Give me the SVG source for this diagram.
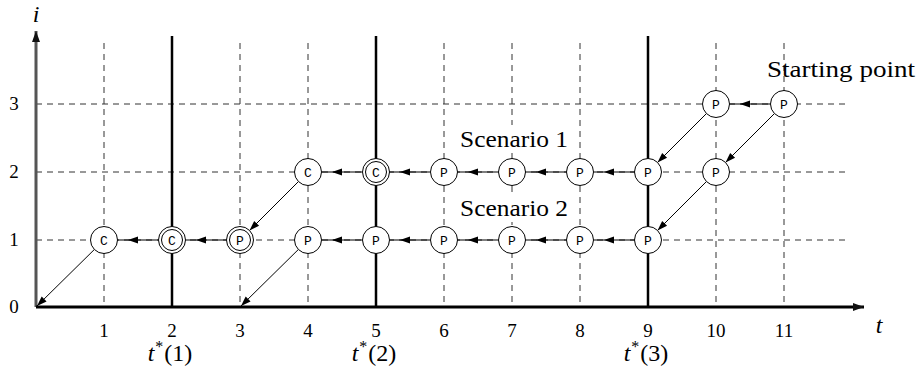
<svg xmlns="http://www.w3.org/2000/svg" width="920" height="373" viewBox="0 0 920 373">
<defs>
<marker id="mid" markerUnits="userSpaceOnUse" viewBox="-1 -5 12 10" refX="0" refY="0" markerWidth="12" markerHeight="10" orient="auto">
<path d="M10,0 L0,-3.5 L0,3.5 Z" fill="#000"/>
</marker>
<marker id="end" markerUnits="userSpaceOnUse" viewBox="-11 -5 12 10" refX="0" refY="0" markerWidth="12" markerHeight="10" orient="auto">
<path d="M0,0 L-10,-3.5 L-10,3.5 Z" fill="#000"/>
</marker>
<marker id="axis" markerUnits="userSpaceOnUse" viewBox="-12 -5 13 10" refX="0" refY="0" markerWidth="13" markerHeight="10" orient="auto">
<path d="M0,0 L-11,-4 L-11,4 Z" fill="#111"/>
</marker>
<circle id="c" r="13.5" fill="#fff" stroke="#000" stroke-width="1"/>
<g id="cc"><circle r="13.5" fill="#fff" stroke="#000" stroke-width="1"/><circle r="10.5" fill="#fff" stroke="#000" stroke-width="1"/></g>
</defs>

<g id="grid">
<path stroke="#333" stroke-width="1" stroke-dasharray="6 5" fill="none" d="M104,43V307 M240,43V307 M308,43V307 M444,43V307 M512,43V307 M580,43V307 M716,43V307 M784,43V307 M36,104H847 M36,172H847 M36,240H847"/>
<path stroke="#000" stroke-width="2.5" fill="none" d="M172,36V307 M376,36V307 M648,36V307"/>
</g>

<g id="axes">
<line x1="36" y1="307" x2="36" y2="31" stroke="#555" stroke-width="3" marker-end="url(#axis)"/>
<line x1="36" y1="307" x2="864" y2="307" stroke="#000" stroke-width="3" marker-end="url(#axis)"/>
<text font-family="Liberation Serif" font-size="24" font-style="italic" x="36" y="22" text-anchor="middle">i</text>
<text font-family="Liberation Serif" font-size="24" font-style="italic" x="879" y="333" text-anchor="middle">t</text>
<text font-family="Liberation Serif" font-size="19" text-anchor="middle" x="14" y="313">0</text>
<text font-family="Liberation Serif" font-size="19" text-anchor="middle" x="14" y="246">1</text>
<text font-family="Liberation Serif" font-size="19" text-anchor="middle" x="14" y="178">2</text>
<text font-family="Liberation Serif" font-size="19" text-anchor="middle" x="14" y="110">3</text>
<text font-family="Liberation Serif" font-size="19" text-anchor="middle" x="104" y="337">1</text>
<text font-family="Liberation Serif" font-size="19" text-anchor="middle" x="172" y="337">2</text>
<text font-family="Liberation Serif" font-size="19" text-anchor="middle" x="240" y="337">3</text>
<text font-family="Liberation Serif" font-size="19" text-anchor="middle" x="308" y="337">4</text>
<text font-family="Liberation Serif" font-size="19" text-anchor="middle" x="376" y="337">5</text>
<text font-family="Liberation Serif" font-size="19" text-anchor="middle" x="444" y="337">6</text>
<text font-family="Liberation Serif" font-size="19" text-anchor="middle" x="512" y="337">7</text>
<text font-family="Liberation Serif" font-size="19" text-anchor="middle" x="580" y="337">8</text>
<text font-family="Liberation Serif" font-size="19" text-anchor="middle" x="648" y="337">9</text>
<text font-family="Liberation Serif" font-size="19" text-anchor="middle" x="716" y="337">10</text>
<text font-family="Liberation Serif" font-size="19" text-anchor="middle" x="784" y="337">11</text>
<text font-family="Liberation Serif" font-size="24" x="170" y="361" text-anchor="middle"><tspan font-style="italic">t</tspan><tspan dy="-9" font-size="16" dx="1">*</tspan><tspan dy="9" dx="1">(1)</tspan></text>
<text font-family="Liberation Serif" font-size="24" x="374" y="361" text-anchor="middle"><tspan font-style="italic">t</tspan><tspan dy="-9" font-size="16" dx="1">*</tspan><tspan dy="9" dx="1">(2)</tspan></text>
<text font-family="Liberation Serif" font-size="24" x="646" y="361" text-anchor="middle"><tspan font-style="italic">t</tspan><tspan dy="-9" font-size="16" dx="1">*</tspan><tspan dy="9" dx="1">(3)</tspan></text>
</g>

<g id="labels">
<rect x="458" y="125" width="112" height="28" fill="#fff"/>
<rect x="458" y="194" width="112" height="28" fill="#fff"/>
<text font-family="Liberation Serif" font-size="24" x="460" y="146.5" textLength="108" lengthAdjust="spacingAndGlyphs">Scenario 1</text>
<text font-family="Liberation Serif" font-size="24" x="460" y="216" textLength="108" lengthAdjust="spacingAndGlyphs">Scenario 2</text>
<text font-family="Liberation Serif" font-size="24" x="767" y="77" textLength="148" lengthAdjust="spacingAndGlyphs">Starting point</text>
</g>

<g id="connectors" fill="none" stroke="#000">
<g stroke-width="1.2" marker-mid="url(#mid)">
<path d="M770.5,104 L750,104 L729.5,104"/>
<path d="M634.5,172 L614,172 L593.5,172"/>
<path d="M566.5,172 L546,172 L525.5,172"/>
<path d="M498.5,172 L478,172 L457.5,172"/>
<path d="M430.5,172 L410,172 L389.5,172"/>
<path d="M362.5,172 L342,172 L321.5,172"/>
<path d="M634.5,240 L614,240 L593.5,240"/>
<path d="M566.5,240 L546,240 L525.5,240"/>
<path d="M498.5,240 L478,240 L457.5,240"/>
<path d="M430.5,240 L410,240 L389.5,240"/>
<path d="M362.5,240 L342,240 L321.5,240"/>
<path d="M226.5,240 L206,240 L185.5,240"/>
<path d="M158.5,240 L138,240 L117.5,240"/>
</g>
<g stroke-width="1" marker-end="url(#end)">
<path d="M774.45,113.55 L725.55,162.45"/>
<path d="M706.45,113.55 L657.55,162.45"/>
<path d="M706.45,181.55 L657.55,230.45"/>
<path d="M298.45,181.55 L249.55,230.45"/>
<path d="M298.38,249.48 L241,306"/>
<path d="M94.38,249.48 L37,306"/>
</g>
</g>

<g id="nodes">
<g id="n-10-3"><use href="#c" x="716" y="104"/><text font-family="Liberation Mono" font-size="13" text-anchor="middle" x="716" y="108.5">P</text></g>
<g id="n-11-3"><use href="#c" x="784" y="104"/><text font-family="Liberation Mono" font-size="13" text-anchor="middle" x="784" y="108.5">P</text></g>
<g id="n-4-2"><use href="#c" x="308" y="172"/><text font-family="Liberation Mono" font-size="13" text-anchor="middle" x="308" y="176.5">C</text></g>
<g id="n-5-2"><use href="#cc" x="376" y="172"/><text font-family="Liberation Mono" font-size="13" text-anchor="middle" x="376" y="176.5">C</text></g>
<g id="n-6-2"><use href="#c" x="444" y="172"/><text font-family="Liberation Mono" font-size="13" text-anchor="middle" x="444" y="176.5">P</text></g>
<g id="n-7-2"><use href="#c" x="512" y="172"/><text font-family="Liberation Mono" font-size="13" text-anchor="middle" x="512" y="176.5">P</text></g>
<g id="n-8-2"><use href="#c" x="580" y="172"/><text font-family="Liberation Mono" font-size="13" text-anchor="middle" x="580" y="176.5">P</text></g>
<g id="n-9-2"><use href="#c" x="648" y="172"/><text font-family="Liberation Mono" font-size="13" text-anchor="middle" x="648" y="176.5">P</text></g>
<g id="n-10-2"><use href="#c" x="716" y="172"/><text font-family="Liberation Mono" font-size="13" text-anchor="middle" x="716" y="176.5">P</text></g>
<g id="n-1-1"><use href="#c" x="104" y="240"/><text font-family="Liberation Mono" font-size="13" text-anchor="middle" x="104" y="244.5">C</text></g>
<g id="n-2-1"><use href="#cc" x="172" y="240"/><text font-family="Liberation Mono" font-size="13" text-anchor="middle" x="172" y="244.5">C</text></g>
<g id="n-3-1"><use href="#cc" x="240" y="240"/><text font-family="Liberation Mono" font-size="13" text-anchor="middle" x="240" y="244.5">P</text></g>
<g id="n-4-1"><use href="#c" x="308" y="240"/><text font-family="Liberation Mono" font-size="13" text-anchor="middle" x="308" y="244.5">P</text></g>
<g id="n-5-1"><use href="#c" x="376" y="240"/><text font-family="Liberation Mono" font-size="13" text-anchor="middle" x="376" y="244.5">P</text></g>
<g id="n-6-1"><use href="#c" x="444" y="240"/><text font-family="Liberation Mono" font-size="13" text-anchor="middle" x="444" y="244.5">P</text></g>
<g id="n-7-1"><use href="#c" x="512" y="240"/><text font-family="Liberation Mono" font-size="13" text-anchor="middle" x="512" y="244.5">P</text></g>
<g id="n-8-1"><use href="#c" x="580" y="240"/><text font-family="Liberation Mono" font-size="13" text-anchor="middle" x="580" y="244.5">P</text></g>
<g id="n-9-1"><use href="#c" x="648" y="240"/><text font-family="Liberation Mono" font-size="13" text-anchor="middle" x="648" y="244.5">P</text></g>
</g>
</svg>
